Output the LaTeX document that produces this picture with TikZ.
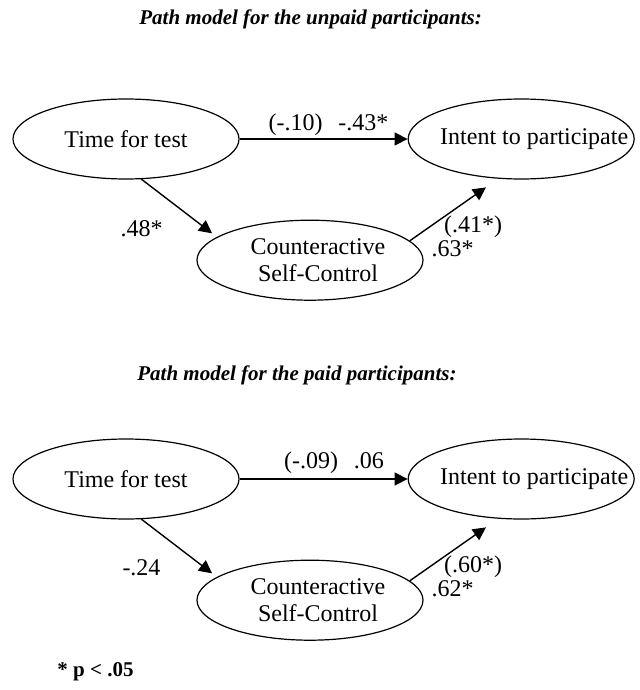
\documentclass[tikz,border=0pt]{standalone}
\usepackage{fontspec}
\setmainfont{Liberation Serif}
\usepackage{tikz}
\usetikzlibrary{arrows.meta,positioning,shapes.geometric}

\begin{document}
\begin{tikzpicture}[x=0.5pt,y=-0.5pt,font=\fontsize{12}{13.5}\selectfont]
\tikzset{
  var/.style={draw,ellipse,line width=0.6pt,minimum width=113pt,minimum height=40pt,inner sep=0pt,align=center},
  arr/.style={-{Triangle[length=6.5pt,width=6.5pt]},line width=0.7pt},
  lbl/.style={inner sep=0pt},
  ttl/.style={anchor=west,inner sep=0pt,font=\fontsize{10.5}{12}\selectfont\bfseries\itshape},
  note/.style={anchor=west,inner sep=0pt,font=\fontsize{10.5}{12}\selectfont\bfseries}
}
\useasboundingbox (0,0) rectangle (639,690);
% unpaid
\node(ttl1)[ttl] at (139,19){Path model for the unpaid participants:};
\node(tft1)[var] at (126,139){Time for test};
\node(itp1)[var,right=84pt of tft1]{\makebox[0pt]{\hspace{13pt}Intent to participate}};
\node(cnt1)[var,below=20pt of tft1,xshift=92pt]{\makebox[0pt]{\hspace{8pt}Counteractive}\\\makebox[0pt]{\hspace{8pt}Self-Control}};
\draw[arr](tft1)--(itp1); \draw[arr,shorten >=3pt](tft1.-69)--(cnt1.166); \draw[arr,shorten >=7.5pt](cnt1.11)--(itp1.-120);
\node(lh1)[lbl] at (328.5,125){(-.10)\hspace{8pt}-.43*};
\node(ld1)[lbl] at (141.5,229){.48*};
\node(lp1)[lbl] at (473,226.5){(.41*)};
\node(lq1)[lbl] at (452.5,248.5){.63*};
% paid
\node(ttl2)[ttl] at (137,375){Path model for the paid participants:};
\node(tft2)[var] at (126,479){Time for test};
\node(itp2)[var,right=84pt of tft2]{\makebox[0pt]{\hspace{13pt}Intent to participate}};
\node(cnt2)[var,below=20pt of tft2,xshift=92pt]{\makebox[0pt]{\hspace{8pt}Counteractive}\\\makebox[0pt]{\hspace{8pt}Self-Control}};
\draw[arr](tft2)--(itp2); \draw[arr,shorten >=3pt](tft2.-69)--(cnt2.166); \draw[arr,shorten >=7.5pt](cnt2.11)--(itp2.-120);
\node(lh2)[lbl] at (334,463){(-.09)\hspace{8pt}.06};
\node(ld2)[lbl] at (141.5,568){-.24};
\node(lp2)[lbl] at (473,566.5){(.60*)};
\node(lq2)[lbl] at (452.5,588.5){.62*};
\node(sig)[note] at (57,672){* p < .05};
\end{tikzpicture}
\end{document}
